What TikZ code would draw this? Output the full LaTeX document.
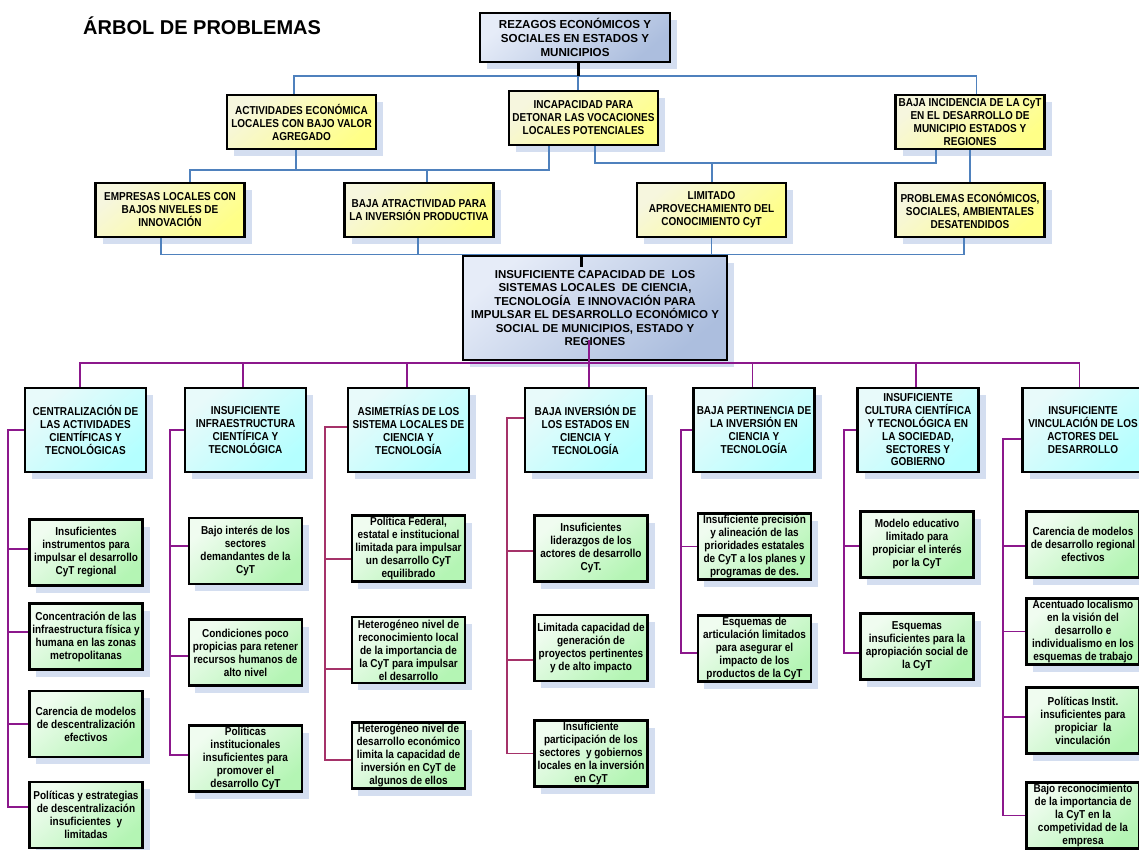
\documentclass[tikz,border=0pt]{standalone}
\usepackage{fontspec}
\setmainfont{Liberation Sans}
\newfontfamily\nfont{Liberation Sans}[FakeStretch=0.87]
\usetikzlibrary{shadows,calc}
\definecolor{shadowc}{RGB}{212,222,240}
\definecolor{blueA}{RGB}{230,236,248}
\definecolor{blueB}{RGB}{172,190,222}
\definecolor{yelA}{RGB}{246,246,222}
\definecolor{yelB}{RGB}{255,255,135}
\definecolor{cyaA}{RGB}{232,250,250}
\definecolor{cyaB}{RGB}{180,255,255}
\definecolor{greA}{RGB}{240,252,240}
\definecolor{greB}{RGB}{180,245,180}
\definecolor{lineblue}{RGB}{79,129,189}
\definecolor{linepurple}{RGB}{140,24,140}
\definecolor{lineplum}{RGB}{165,50,105}
\begin{document}
\begin{tikzpicture}[x=1pt,y=-1pt,
  box/.style={draw=black, line width=2.4pt, inner sep=1pt, align=center,
    font=\nfont\fontsize{11.5}{13}\selectfont\bfseries,
    drop shadow={shadow xshift=7pt, shadow yshift=-7pt, fill=shadowc, opacity=1}},
  bbox/.style={box, top color=blueA, bottom color=blueB, shading angle=40},
  ybox/.style={box, top color=yelA, bottom color=yelB, shading angle=40,
    minimum width=149pt, minimum height=54pt},
  cbox/.style={box, top color=cyaA, bottom color=cyaB, shading angle=40,
    minimum width=121pt, minimum height=84pt, font=\nfont\fontsize{11.5}{12.8}\selectfont\bfseries},
  gbox/.style={box, top color=greA, bottom color=greB, shading angle=40,
    minimum width=113pt, minimum height=66pt,
    drop shadow={shadow xshift=6pt, shadow yshift=-7pt, fill=shadowc, opacity=1}},
  bl/.style={draw=lineblue, line width=1.3pt},
  blk/.style={draw=black, line width=3pt},
  pl/.style={draw=linepurple, line width=1.8pt},
  pm/.style={draw=lineplum, line width=1.8pt}
]
\useasboundingbox (0,0) rectangle (1139,850);
\fill[white] (0,0) rectangle (1139,850);

\node[anchor=base west, inner sep=0pt, font=\fontsize{20}{24}\selectfont\bfseries] (title) at (83,35) {ÁRBOL DE PROBLEMAS};

% top
\node[bbox, minimum width=190pt, minimum height=49pt, font=\fontsize{11.6}{14.3}\selectfont\bfseries] (rez) at (575,37.5) {REZAGOS ECONÓMICOS Y\\SOCIALES EN ESTADOS Y\\MUNICIPIOS};

% level 2
\node[ybox] (act) at (301.5,122) {ACTIVIDADES ECONÓMICA\\LOCALES CON BAJO VALOR\\AGREGADO};
\node[ybox] (inc) at (583.5,118) {INCAPACIDAD PARA\\DETONAR LAS VOCACIONES\\LOCALES POTENCIALES};
\node[ybox] (baj) at (970,122) {BAJA INCIDENCIA DE LA CyT\\EN EL DESARROLLO DE\\MUNICIPIO ESTADOS Y\\REGIONES};

% level 3
\node[ybox] (emp) at (170,210) {EMPRESAS LOCALES CON\\BAJOS NIVELES DE\\INNOVACIÓN};
\node[ybox] (atr) at (419,210) {BAJA ATRACTIVIDAD PARA\\LA INVERSIÓN PRODUCTIVA};
\node[ybox] (lim) at (711.5,210) {LIMITADO\\APROVECHAMIENTO DEL\\CONOCIMIENTO CyT};
\node[ybox] (pro) at (970,210) {PROBLEMAS ECONÓMICOS,\\SOCIALES, AMBIENTALES\\DESATENDIDOS};

% central
\node[bbox, minimum width=264pt, minimum height=104pt, font=\fontsize{11.5}{13.4}\selectfont\bfseries] (cen) at (595,308) {INSUFICIENTE CAPACIDAD DE~ LOS\\SISTEMAS LOCALES~ DE CIENCIA,\\TECNOLOGÍA~ E INNOVACIÓN PARA\\IMPULSAR EL DESARROLLO ECONÓMICO Y\\SOCIAL DE MUNICIPIOS, ESTADO Y\\REGIONES};

% level 4 (cyan)
\node[cbox] (c1) at (85.5,430) {CENTRALIZACIÓN DE\\LAS ACTIVIDADES\\CIENTÍFICAS Y\\TECNOLÓGICAS};
\node[cbox] (c2) at (245.5,430) {INSUFICIENTE\\INFRAESTRUCTURA\\CIENTÍFICA Y\\TECNOLÓGICA};
\node[cbox] (c3) at (408.5,430) {ASIMETRÍAS DE LOS\\SISTEMA LOCALES DE\\CIENCIA Y\\TECNOLOGÍA};
\node[cbox] (c4) at (585.5,430) {BAJA INVERSIÓN DE\\LOS ESTADOS EN\\CIENCIA Y\\TECNOLOGÍA};
\node[cbox] (c5) at (754,430) {BAJA PERTINENCIA DE\\LA INVERSIÓN EN\\CIENCIA Y\\TECNOLOGÍA};
\node[cbox] (c6) at (918,430) {INSUFICIENTE\\CULTURA CIENTÍFICA\\Y TECNOLÓGICA EN\\LA SOCIEDAD,\\SECTORES Y\\GOBIERNO};
\node[cbox] (c7) at (1083,430) {INSUFICIENTE\\VINCULACIÓN DE LOS\\ACTORES DEL\\DESARROLLO};

% level 5 (green)
\node[gbox] (g11) at (86,552.5) {Insuficientes\\instrumentos para\\impulsar el desarrollo\\CyT regional};
\node[gbox] (g12) at (86,636.5) {Concentración de las\\infraestructura física y\\humana en las zonas\\metropolitanas};
\node[gbox] (g13) at (86,724) {Carencia de modelos\\de descentralización\\efectivos};
\node[gbox] (g14) at (86,815) {Políticas y estrategias\\de descentralización\\insuficientes~ y\\limitadas};

\node[gbox] (g21) at (245.5,551) {Bajo interés de los\\sectores\\demandantes de la\\CyT};
\node[gbox] (g22) at (245.5,652.5) {Condiciones poco\\propicias para retener\\recursos humanos de\\alto nivel};
\node[gbox] (g23) at (245.5,758.5) {Políticas\\institucionales\\insuficientes para\\promover el\\desarrollo CyT};

\node[gbox] (g31) at (408.5,548.5) {Política Federal,\\estatal e institucional\\limitada para impulsar\\un desarrollo CyT\\equilibrado};
\node[gbox] (g32) at (408.5,650) {Heterogéneo nivel de\\reconocimiento local\\de la importancia de\\la CyT para impulsar\\el desarrollo};
\node[gbox] (g33) at (408.5,755.5) {Heterogéneo nivel de\\desarrollo económico\\limita la capacidad de\\inversión en CyT de\\algunos de ellos};

\node[gbox] (g41) at (591,548.5) {Insuficientes\\liderazgos de los\\actores de desarrollo\\CyT.};
\node[gbox] (g42) at (591,648) {Limitada capacidad de\\generación de\\proyectos pertinentes\\y de alto impacto};
\node[gbox] (g43) at (591,753.5) {Insuficiente\\participación de los\\sectores~ y gobiernos\\locales en la inversión\\en CyT};

\node[gbox] (g51) at (754.5,546.5) {Insuficiente precisión\\y alineación de las\\prioridades estatales\\de CyT a los planes y\\programas de des.};
\node[gbox] (g52) at (754.5,648.5) {Esquemas de\\articulación limitados\\para asegurar el\\impacto de los\\productos de la CyT};

\node[gbox] (g61) at (917,544.5) {Modelo educativo\\limitado para\\propiciar el interés\\por la CyT};
\node[gbox] (g62) at (917,646.5) {Esquemas\\insuficientes para la\\apropiación social de\\la CyT};

\node[gbox] (g71) at (1083,544.5) {Carencia de modelos\\de desarrollo regional\\efectivos};
\node[gbox] (g72) at (1083,631.5) {Acentuado localismo\\en la visión del\\desarrollo e\\individualismo en los\\esquemas de trabajo};
\node[gbox] (g73) at (1083,720.5) {Políticas Instit.\\insuficientes para\\propiciar~ la\\vinculación};
\node[gbox] (g74) at (1083,815.5) {Bajo reconocimiento\\de la importancia de\\la CyT en la\\competividad de la\\empresa};

% ---- blue connectors
\coordinate (b1) at (578,76);
\draw[bl] ([xshift=-7.5pt]act.north) |- (b1) -| ([xshift=6.5pt]baj.north);
\draw[bl] (b1) -- (b1 |- inc.north);
\draw[blk] (b1 |- rez.south) -- (b1);

\coordinate (b2) at (296,170);
\coordinate (i1) at ([xshift=-34.5pt]inc.south);
\coordinate (a1) at ([xshift=8pt]atr.north);
\draw[bl] (b2 |- act.south) -- (b2);
\draw[bl] ([xshift=20pt]emp.north) |- (i1 |- b2) -- (i1);
\draw[bl] (a1) -- (a1 |- b2);

\coordinate (i2) at ([xshift=11.5pt]inc.south);
\coordinate (k1) at ([xshift=-34pt]baj.south);
\coordinate (b3) at (712,163);
\draw[bl] (i2) |- (b3) -| (k1);
\draw[bl] (b3) -- (b3 |- lim.north);
\draw[bl] (baj.south) -- (pro.north);

\coordinate (e1) at ([xshift=-9pt]emp.south);
\coordinate (p1) at ([xshift=-6pt]pro.south);
\coordinate (a2) at ([xshift=-1pt]atr.south);
\draw[bl] (e1) |- (cen.north) -| (p1);
\draw[bl] (a2) -- (a2 |- cen.north);
\draw[bl] (lim.south) -- (lim.south |- cen.north);
\draw[blk] ([xshift=-14pt]cen.north) -- ++(0,12);

% ---- purple connectors
\coordinate (pbus) at (595,363);
\draw[pl] ([xshift=-5.5pt]c1.north) |- (pbus) -| ([xshift=-3.5pt]c7.north);
\coordinate (q2) at ([xshift=-2.5pt]c2.north);
\coordinate (q3) at ([xshift=-1.5pt]c3.north);
\coordinate (q5) at ([xshift=-1.5pt]c5.north);
\coordinate (q6) at ([xshift=-2pt]c6.north);
\draw[pl] (q2) -- (q2 |- pbus);
\draw[pl] (q3) -- (q3 |- pbus);
\draw[pl] (q5) -- (q5 |- pbus);
\draw[pl] (q6) -- (q6 |- pbus);
\draw[pl] ([xshift=-6pt,yshift=21pt]cen.south) -- ([xshift=3.5pt]c4.north);

% column 1
\draw[pl] (c1.west) -- ++(-16,0) |- ([yshift=3.5pt]g11.west);
\draw[pl] (c1.west) -- ++(-16,0) |- ([yshift=4.5pt]g12.west);
\draw[pl] (c1.west) -- ++(-16,0) |- (g13.west);
\draw[pl] (c1.west) -- ++(-16,0) |- ([yshift=8pt]g14.west);
% column 2
\draw[pl] (c2.west) -- ++(-14,0) |- ([yshift=5pt]g21.west);
\draw[pl] (c2.west) -- ++(-14,0) |- ([yshift=-3.5pt]g22.west);
\draw[pl] (c2.west) -- ++(-14,0) |- ([yshift=3.5pt]g23.west);
% column 3
\draw[pm] ([yshift=3pt]c3.west) -- ++(-22,0) |- ([yshift=-10.5pt]g31.west);
\draw[pm] ([yshift=3pt]c3.west) -- ++(-22,0) |- ([yshift=-19pt]g32.west);
\draw[pm] ([yshift=3pt]c3.west) -- ++(-22,0) |- ([yshift=-4.5pt]g33.west);
% column 4
\draw[pm] ([yshift=12pt]c4.west) -- ++(-17,0) |- ([yshift=-2.5pt]g41.west);
\draw[pm] ([yshift=12pt]c4.west) -- ++(-17,0) |- ([yshift=-12pt]g42.west);
\draw[pm] ([yshift=12pt]c4.west) -- ++(-17,0) |- (g43.west);
% column 5
\draw[pl] (c5.west) -- ++(-11,0) |- (g51.west);
\draw[pl] (c5.west) -- ++(-11,0) |- ([yshift=-4.5pt]g52.west);
% column 6
\draw[pl] (c6.west) -- ++(-12,0) |- ([yshift=-1.5pt]g61.west);
\draw[pl] (c6.west) -- ++(-12,0) |- ([yshift=-6.5pt]g62.west);
% column 7
\draw[pl] ([yshift=-9pt]c7.west) -- ++(-18,0) |- ([yshift=-1.5pt]g71.west);
\draw[pl] ([yshift=-9pt]c7.west) -- ++(-18,0) |- (g72.west);
\draw[pl] ([yshift=-9pt]c7.west) -- ++(-18,0) |- ([yshift=3.5pt]g73.west);
\draw[pl] ([yshift=-9pt]c7.west) -- ++(-18,0) |- (g74.west);
\end{tikzpicture}
\end{document}
